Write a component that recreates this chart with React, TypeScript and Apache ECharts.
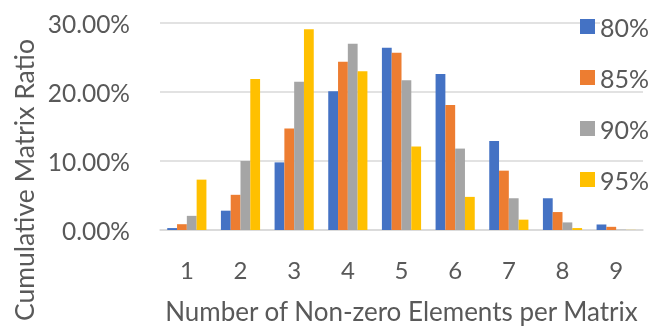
import React, { useEffect, useRef } from "react";
import * as echarts from "echarts";

// Number of non-zero elements per matrix
const categories = ["1", "2", "3", "4", "5", "6", "7", "8", "9"];

// Share of matrices (%) for each sparsity threshold
const seriesNames = ["80%", "85%", "90%", "95%"];
const s80 = [0.28, 2.8, 9.8, 20.1, 26.4, 22.6, 12.9, 4.6, 0.8];
const s85 = [0.84, 5.1, 14.7, 24.4, 25.7, 18.1, 8.6, 2.6, 0.46];
const s90 = [2.05, 10.0, 21.5, 27.0, 21.7, 11.8, 4.6, 1.1, 0.05];
const s95 = [7.3, 21.9, 29.1, 23.0, 12.1, 4.8, 1.5, 0.28, 0.02];

const colors = ["#4472C4", "#ED7D31", "#A5A5A5", "#FFC000"];
const FONT = "Lato, 'Open Sans', sans-serif";
const TEXT = "#595959";

export default function App() {
  const ref = useRef<HTMLDivElement>(null);

  useEffect(() => {
    if (!ref.current) return;
    const chart = echarts.init(ref.current, undefined, { renderer: "svg" });
    const data = [s80, s85, s90, s95];
    chart.setOption({
      animation: false,
      color: colors,
      textStyle: { fontFamily: FONT, color: TEXT },
      grid: { left: 160, right: 9, top: 23, bottom: 92.5 },
      legend: {
        orient: "vertical",
        left: 580,
        top: 14,
        padding: 0,
        itemWidth: 15,
        itemHeight: 15,
        itemGap: 26,
        icon: "rect",
        data: seriesNames,
        textStyle: {
          fontFamily: FONT,
          fontSize: 25,
          color: TEXT,
          lineHeight: 24,
          backgroundColor: "#fff",
          padding: [0, 2, 0, 0],
        },
      },
      xAxis: {
        type: "category",
        data: categories,
        axisTick: { show: false },
        axisLine: { lineStyle: { color: "#D9D9D9", width: 1.5 } },
        axisLabel: { fontFamily: FONT, fontSize: 24, color: TEXT, margin: 27 },
        name: "Number of Non-zero Elements per Matrix",
        nameLocation: "middle",
        nameGap: 68,
        nameTextStyle: { fontFamily: FONT, fontSize: 26, color: TEXT },
      },
      yAxis: {
        type: "value",
        min: 0,
        max: 30,
        interval: 10,
        axisLine: { show: false },
        axisTick: { show: false },
        splitLine: { lineStyle: { color: "#D9D9D9", width: 1.5 } },
        axisLabel: {
          fontFamily: FONT,
          fontSize: 24.5,
          color: TEXT,
          margin: 30,
          formatter: (v: number) => v.toFixed(2) + "%",
        },
      },
      graphic: [
        {
          type: "text",
          x: 24,
          y: 180,
          rotation: Math.PI / 2,
          style: {
            text: "Cumulative Matrix Ratio",
            fontFamily: FONT,
            fontSize: 26.5,
            fill: TEXT,
            align: "center",
            verticalAlign: "middle",
          },
        },
      ],
      series: seriesNames.map((name, i) => ({
        name,
        type: "bar",
        data: data[i],
        barGap: "0%",
        barCategoryGap: "27%",
      })),
    });
    return () => chart.dispose();
  }, []);

  return (
    <div
      ref={ref}
      style={{ position: "fixed", left: 0, top: 0, width: 652, height: 329 }}
    />
  );
}
